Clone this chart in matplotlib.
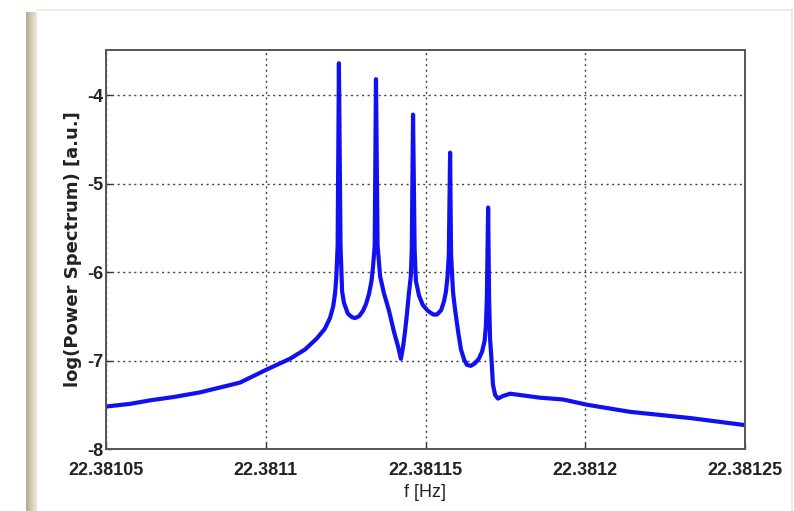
import matplotlib.pyplot as plt
from matplotlib.colors import LinearSegmentedColormap
import numpy as np

# frequency offsets from 22.38105 Hz, in units of 1e-7 Hz
f_offset = [0, 75, 138, 216, 294, 419, 504, 576, 623, 660, 685, 701, 711, 717, 721, 725, 729, 734,
            739, 745, 757, 770, 779, 792, 804, 814, 823, 831, 836, 841, 845, 850,
            858, 870, 886, 901, 914, 923, 930, 936, 942, 948, 954, 957, 961, 966,
            970, 980, 992, 1008, 1024, 1036, 1049, 1058, 1064, 1069, 1073, 1077, 1080,
            1086, 1092, 1102, 1111, 1121, 1130, 1142, 1155, 1167, 1177, 1185, 1189, 1192, 1196, 1199,
            1202, 1207, 1211, 1218, 1227, 1243, 1265, 1296, 1358, 1430, 1506, 1640, 1828, 2000]
log_power = [-7.52, -7.49, -7.45, -7.41, -7.36, -7.25, -7.10, -6.98, -6.875, -6.75, -6.64, -6.52, -6.39, -6.24, -6.05, -5.70, -3.64, -5.70,
             -6.22, -6.35, -6.47, -6.51, -6.52, -6.50, -6.44, -6.36, -6.25, -6.10, -5.93, -5.70, -3.82, -5.70,
             -6.05, -6.24, -6.44, -6.67, -6.84, -6.98, -6.84, -6.67, -6.47, -6.24, -6.05, -5.75, -4.22, -5.75,
             -6.10, -6.27, -6.375, -6.44, -6.48, -6.48, -6.43, -6.33, -6.22, -6.05, -5.80, -4.65, -5.80,
             -6.22, -6.41, -6.67, -6.875, -6.99, -7.05, -7.06, -7.03, -6.98, -6.90, -6.78, -6.61, -6.30, -5.27, -6.30,
             -6.75, -7.01, -7.27, -7.39, -7.43, -7.40, -7.375, -7.39, -7.42, -7.44, -7.50, -7.58, -7.65, -7.73]

f0 = 22.38105
x_ticks = [22.38105, 22.3811, 22.38115, 22.3812, 22.38125]
x_labels = ["22.38105", "22.3811", "22.38115", "22.3812", "22.38125"]
y_ticks = [-8, -7, -6, -5, -4]
y_labels = ["-8", "-7", "-6", "-5", "-4"]

freq = f0 + np.array(f_offset) * 1e-7

fig = plt.figure(figsize=(7.94, 5.11), dpi=100)

# tan edge strip down the left side, faint frame lines top and right
strip = fig.add_axes([26 / 794, 0, 11 / 794, 499 / 511])
edge_cmap = LinearSegmentedColormap.from_list("edge", ["#b3a88f", "#d6ccb6", "#efe9dc"])
strip.imshow(np.linspace(0, 1, 50)[None, :], aspect="auto", cmap=edge_cmap)
strip.axis("off")
fig.add_artist(plt.Line2D([37 / 794, 792 / 794], [501 / 511, 501 / 511], color="#ecebe3", linewidth=1.2))
fig.add_artist(plt.Line2D([792 / 794, 792 / 794], [0, 501 / 511], color="#e6e6e0", linewidth=1.2))

ax = fig.add_axes([106 / 794, 62 / 511, 639 / 794, 399 / 511])
ax.plot(freq, log_power, color="#1010f0", linewidth=3.0, solid_joinstyle="round")

ax.set_xlim(22.38105, 22.38125)
ax.set_ylim(-8, -3.49)

tick_font = dict(family="Liberation Sans", weight="bold", size=13)
ax.set_xticks(x_ticks)
ax.set_xticklabels(x_labels, fontdict=tick_font)
ax.set_yticks(y_ticks)
ax.set_yticklabels(y_labels, fontdict=tick_font)
ax.tick_params(direction="in", length=4, width=1, colors="#333333", labelcolor="#222222")
ax.tick_params(axis="x", pad=9)
ax.tick_params(axis="y", pad=2)

ax.grid(True, linestyle=(0, (1.5, 2.5)), color="#444444", linewidth=1.0)

for pos in ["right", "top", "bottom", "left"]:
    ax.spines[pos].set_color("#555555")
    ax.spines[pos].set_linewidth(1.4)

ax.set_xlabel("f [Hz]", family="Liberation Sans", size=13, color="#222222", labelpad=4)
ax.set_ylabel("log(Power Spectrum) [a.u.]", family="DejaVu Sans", weight="bold", size=13,
              color="#222222", labelpad=4)

fig.savefig("out.png", dpi=100)
